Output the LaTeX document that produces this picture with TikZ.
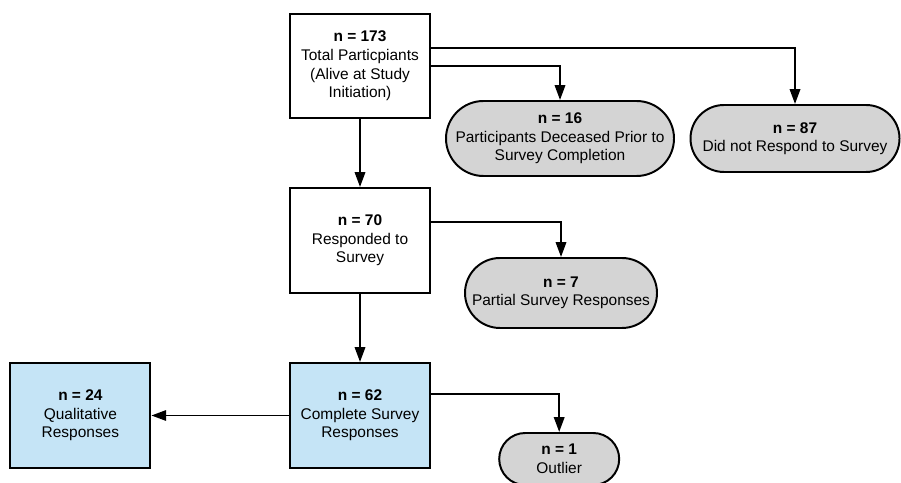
\documentclass[tikz,border=0pt]{standalone}
\usepackage{fontspec}
\setmainfont{Liberation Sans}
\usepackage{xcolor}
\usetikzlibrary{positioning,arrows.meta}

\definecolor{pillgray}{RGB}{212,212,212}
\definecolor{boxblue}{RGB}{197,228,246}

\tikzset{
	box/.style={draw, line width=1.4pt, rectangle, align=center, fill=white, minimum width=3.5cm, minimum height=2.625cm, inner sep=1pt, font=\fontsize{11}{13.2}\selectfont},
	pill/.style={draw, line width=1.4pt, rectangle, align=center, fill=pillgray, minimum height=2*#1, rounded corners=#1, inner sep=1pt, font=\fontsize{11}{13.2}\selectfont},
	link/.style={line width=1.4pt, -{Triangle[length=0.37cm,width=0.26cm]}}
}

\begin{document}
\begin{tikzpicture}
		\useasboundingbox[fill=white] (0,0) rectangle (22.525,12.075);
		\node[box, minimum height=2.6cm] (total) at (9.0,10.425) {\textbf{n = 173}\\Total Particpiants\\(Alive at Study\\Initiation)};
		\node[pill=0.9375cm, minimum width=5.7cm] (dead) at (14.0,8.6125) {\textbf{n = 16}\\Participants Deceased Prior to\\Survey Completion};
		\node[pill=0.8375cm, minimum width=5.225cm] (noresp) at (19.875,8.6125) {\textbf{n = 87}\\Did not Respond to Survey};
		\node[box] (resp) at (9.0,6.0625) {\textbf{n = 70}\\Responded to\\Survey};
		\node[pill=0.875cm, minimum width=4.8cm] (partial) at (14.025,4.75) {\textbf{n = 7}\\Partial Survey Responses};
		\node[box, fill=boxblue] (complete) at (9.0,1.6875) {\textbf{n = 62}\\Complete Survey\\Responses};
		\node[box, fill=boxblue] (qual) at (2.01,1.6875) {\textbf{n = 24}\\Qualitative\\Responses};
		\node[pill=0.65cm, minimum width=3.0cm] (outlier) at (13.98,0.6) {\textbf{n = 1}\\Outlier};
		\draw[link] (total.east) -| (dead.north);
		\draw[link] ([yshift=0.45cm]total.east) -| (noresp.north);
		\draw[link] (total) -- (resp);
		\draw[link] ([yshift=0.4625cm]resp.east) -| (partial.north);
		\draw[link] (resp) -- (complete);
		\draw[link] (complete) -- (qual);
		\draw[link] ([yshift=0.5375cm]complete.east) -| (outlier.north);
	\end{tikzpicture}
\end{document}
